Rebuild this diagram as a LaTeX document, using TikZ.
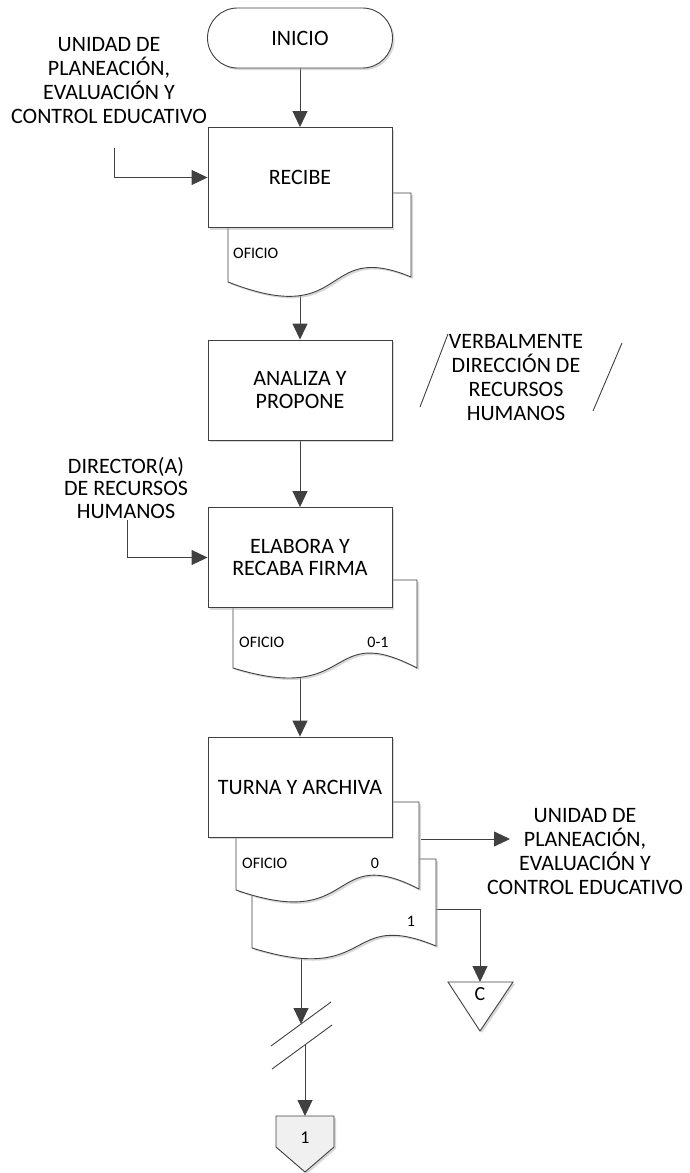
\documentclass[tikz,border=0pt]{standalone}
\usepackage{fontspec}
\setmainfont{Carlito}
\usetikzlibrary{arrows.meta,shadows,backgrounds}
\newcommand\bigf{\fontsize{22}{22.5}\selectfont}
\newcommand\lblf{\fontsize{22}{24}\selectfont}
\newcommand\smallf{\fontsize{16}{16}\selectfont}
% L R top yl yr a1 a2
\newcommand\docshape[7]{%
  \draw[doc] (#1,#3) -- (#1,#4) .. controls ({#1+0.67*(#2-#1)},{#4+#6}) and ({#1+0.5*(#2-#1)},{#5-#7}) .. (#2,#5) -- (#2,#3) -- cycle;}
\begin{document}
\begin{tikzpicture}[x=1pt,y=-1pt,
  ln/.style={draw=black!75,line width=0.9pt},
  arr/.style={ln,-{Triangle[length=16pt,width=15pt]}},
  shd/.style={drop shadow={shadow xshift=2pt,shadow yshift=-2pt,fill=black!30,opacity=0.5}},
  proc/.style={ln,fill=white,shd,minimum width=184pt,minimum height=100pt,inner sep=0pt,align=center,font=\bigf},
  term/.style={proc,minimum height=60pt,minimum width=185pt,rounded corners=30pt},
  doc/.style={ln,fill=white,shd},
  lbl/.style={inner sep=0pt,align=center,font=\lblf},
  small/.style={inner sep=0pt,font=\smallf,anchor=west},
]
\useasboundingbox (0,0) rectangle (689,1173);

% terminator
\node[term] (inicio) at (300,38) {INICIO};

% documents (back to front)
\docshape{228}{411}{193}{282}{277}{48}{38}
\docshape{233}{417}{580}{668}{668}{38}{48}
\docshape{252}{436}{859}{948}{946}{38}{38}
\docshape{236}{419}{802}{890}{889}{43}{47}

% process boxes
\node[proc] (recibe) at (300,177.5) {RECIBE};
\node[proc] (analiza) at (300,390) {ANALIZA Y\\PROPONE};
\node[proc] (elabora) at (300,557.5) {ELABORA Y\\RECABA FIRMA};
\node[proc] (turna) at (300,787) {TURNA Y ARCHIVA};

% document labels
\node[small] (of1) at (233,253) {OFICIO};
\node[small] (of2) at (239,642) {OFICIO};
\node[small,anchor=center] (n01) at (378,642) {0-1};
\node[small] (of3) at (242,863) {OFICIO};
\node[small,anchor=center] (n0) at (375,863) {0};
\node[small,anchor=center] (n1) at (411,921) {1};

% outside labels
\node[lbl] (u1) at (109,81) {UNIDAD DE\\PLANEACIÓN,\\EVALUACIÓN Y\\CONTROL EDUCATIVO};
\node[lbl] (verb) at (516,378) {VERBALMENTE\\DIRECCIÓN DE\\RECURSOS\\HUMANOS};
\node[lbl,font=\fontsize{22}{22.5}\selectfont] (dir) at (126,488) {DIRECTOR(A)\\DE RECURSOS\\HUMANOS};
\node[lbl] (u2) at (585,852) {UNIDAD DE\\PLANEACIÓN,\\EVALUACIÓN Y\\CONTROL EDUCATIVO};

% verbal slashes
\draw[ln] (420,407) -- (448,334);
\draw[ln] (593,411) -- (622,343);

% connector C
\draw[ln,fill=white,shd] (448,982) -- (513,982) -- (480,1031) -- cycle;
\node[inner sep=0pt,font=\fontsize{20}{20}\selectfont] (cc) at (480,994) {C};

% off-page connector 1
\draw[ln,fill=black!6,shd] (276,1116) -- (334,1116) -- (334,1147) -- (305,1172) -- (276,1147) -- cycle;
\node[inner sep=0pt,font=\fontsize{18}{18}\selectfont] (one) at (305,1138) {1};

% break slashes
\draw[ln] (271,1046) -- (331,1002);
\draw[ln] (272,1069) -- (332,1025);

% coordinates
\coordinate (u1in) at (114,148);
\coordinate (dirin) at (127,520);
\coordinate (d1b) at (300,289);
\coordinate (d2b) at (300,670);
\coordinate (d4b) at (301,950);
\coordinate (t1out) at (421,839);
\coordinate (u2arr) at (510,839);
\coordinate (cstart) at (430,909);
\coordinate (ctop) at (480,982);
\coordinate (s1) at (301,1024);
\coordinate (s2) at (305,1045);
\coordinate (offtop) at (305,1116);

\begin{scope}[on background layer]
\draw[arr] (inicio) -- (recibe);
\draw[arr] (d1b) -- (analiza);
\draw[arr] (analiza) -- (elabora);
\draw[arr] (d2b) -- (turna);
\draw[arr] (u1in) |- (recibe.west);
\draw[arr] (dirin) |- (elabora.west);
\draw[arr] (t1out) -- (u2arr);
\draw[arr] (cstart) -| (ctop);
\draw[arr] (d4b) -- (s1);
\draw[arr] (s2) -- (offtop);
\end{scope}
\end{tikzpicture}
\end{document}
